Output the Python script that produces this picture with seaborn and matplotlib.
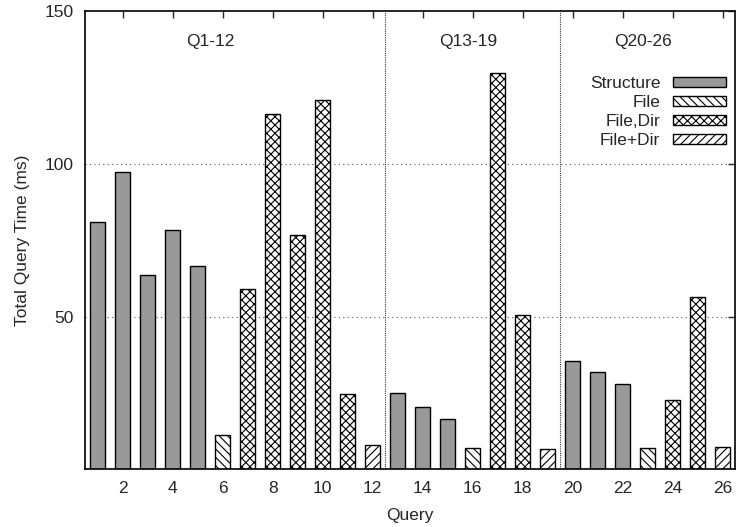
import matplotlib
matplotlib.use("Agg")
import matplotlib.pyplot as plt
from matplotlib.patches import Patch
import pandas as pd
import seaborn as sns

queries = list(range(1, 27))
times = [81.1, 97.3, 63.7, 78.3, 66.4, 11.2,
         59.0, 116.4, 76.8, 120.9, 24.6, 7.9,
         24.9, 20.5, 16.5, 6.9, 129.7, 50.5, 6.6,
         35.5, 31.8, 27.9, 6.9, 22.6, 56.4, 7.2]
methods = (["Structure"] * 5 + ["File"] + ["File,Dir"] * 5 + ["File+Dir"]
           + ["Structure"] * 3 + ["File"] + ["File,Dir"] * 2 + ["File+Dir"]
           + ["Structure"] * 3 + ["File"] + ["File,Dir"] * 2 + ["File+Dir"])
method_order = ["Structure", "File", "File,Dir", "File+Dir"]
group_labels = ["Q1-12", "Q13-19", "Q20-26"]
group_label_x = [5.5, 15.8, 22.8]
group_bounds = [12.5, 19.5]

fills = {"Structure": "#999999", "File": "white", "File,Dir": "white", "File+Dir": "white"}
hatches = {"Structure": "", "File": "\\\\\\\\", "File,Dir": "xxxx", "File+Dir": "////"}

sns.set_style("white")
plt.rcParams["font.family"] = ["Liberation Sans", "DejaVu Sans"]
plt.rcParams["font.size"] = 12.5
plt.rcParams["hatch.linewidth"] = 0.8
plt.rcParams["hatch.color"] = "black"

df = pd.DataFrame({"query": queries, "time": times, "method": methods})

fig = plt.figure(figsize=(7.36, 5.27), dpi=100)
ax = fig.add_axes([0.1158, 0.1093, 0.8832, 0.8698])

sns.barplot(data=df, x="query", y="time", hue="method", hue_order=method_order,
            palette=fills, native_scale=True, dodge=False, width=0.6,
            errorbar=None, edgecolor="black", linewidth=1.0, legend=False,
            ax=ax, zorder=2)

# hatch each bar according to its method
for bar in ax.patches:
    q = int(round(bar.get_x() + bar.get_width() / 2))
    m = methods[q - 1]
    bar.set_facecolor(fills[m])
    bar.set_hatch(hatches[m])
    bar.set_edgecolor("black")

for yv in [50, 100]:
    ax.axhline(yv, color="#555555", lw=0.8, ls=(0, (1, 3)), zorder=0)
for xv in group_bounds:
    ax.axvline(xv, color="#333333", lw=0.8, ls=(0, (1, 1)), zorder=1)

for lab, xv in zip(group_labels, group_label_x):
    ax.text(xv, 140, lab, ha="center", va="center")

ax.set_xlim(0.5, 26.5)
ax.set_ylim(0, 150)
ax.set_xticks(range(2, 27, 2))
ax.set_yticks([50, 100, 150])
ax.tick_params(direction="in", top=True, right=True, length=5, width=1, pad=8)
for s in ax.spines.values():
    s.set_linewidth(1.2)
    s.set_color("black")

ax.set_xlabel("Query", va="center")
ax.set_ylabel("Total Query Time (ms)", va="center")
ax.xaxis.set_label_coords(0.5, -0.0995)
ax.yaxis.set_label_coords(-0.097, 0.5)

handles = [Patch(facecolor=fills[m], edgecolor="black", hatch=hatches[m]) for m in method_order]
ax.legend(handles, method_order, loc="upper right", bbox_to_anchor=(0.9857, 0.858),
          frameon=False, markerfirst=False, handlelength=3.05, handleheight=0.52,
          handletextpad=0.73, labelspacing=0.23, borderpad=0, borderaxespad=0)

fig.savefig("out.png", dpi=100)
